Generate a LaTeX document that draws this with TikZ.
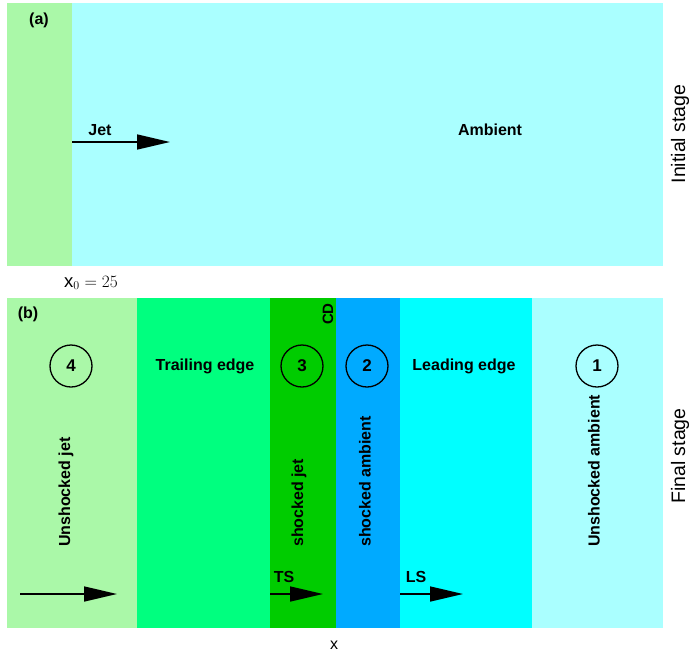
\documentclass[tikz,border=0pt]{standalone}
\usepackage{fontspec}
\setmainfont{Liberation Sans}
\usepackage{amsmath}
\usetikzlibrary{positioning,arrows.meta,calc}

\definecolor{jetgreen}{HTML}{AAF8A8}
\definecolor{ambcyan}{HTML}{AAFFFF}
\definecolor{trailgreen}{HTML}{00FF7F}
\definecolor{sjetgreen}{HTML}{00CC00}
\definecolor{sambblue}{HTML}{00AAFF}
\definecolor{leadcyan}{HTML}{00FFFF}

\begin{document}
\begin{tikzpicture}[
x=1pt,y=-1pt,
lbl/.style={font=\bfseries\fontsize{16}{18}\selectfont},
vlbl/.style={lbl,rotate=90,anchor=west,inner sep=0pt},
stage/.style={font=\fontsize{19.5}{22}\selectfont,rotate=90},
zone/.style={draw,circle,line width=1.3pt,minimum size=42pt,inner sep=0pt,font=\bfseries\fontsize{17}{19}\selectfont},
flow/.style={-{Triangle[length=33pt,width=15pt]},line width=1.6pt},
]
	\useasboundingbox (0,0) rectangle (689,657);
	% (a) initial stage
	\fill[jetgreen] (7,3) rectangle (72,266);
	\fill[ambcyan] (72,3) rectangle (663,266);
	\node[lbl] (pa) at (39,20) {(a)};
	\node[lbl] (jet) at (100,130) {Jet};
	\coordinate (jetstart) at (72,142);
	\coordinate (jettip) at (170,142);
	\draw[flow] (jetstart) -- (jettip);
	\node[lbl] (amb) at (490,130) {Ambient};
	\node[stage] (init) at (680,134) {Initial stage};
	\node[font=\fontsize{18.5}{20}\selectfont] (xnot) at (91,283) {$\mathrm{x}_0=25$};
	% (b) final stage
	\fill[jetgreen] (7,298) rectangle (137,628);
	\fill[trailgreen] (137,298) rectangle (270,628);
	\fill[sjetgreen] (270,298) rectangle (336,628);
	\fill[sambblue] (336,298) rectangle (400,628);
	\fill[leadcyan] (400,298) rectangle (532,628);
	\fill[ambcyan] (532,298) rectangle (663,628);
	\node[lbl] (pb) at (28,314) {(b)};
	\node[zone] (z4) at (71,366) {4};
	\node[lbl] (trail) at (205,366) {Trailing edge};
	\node[zone] (z3) at (302,366) {3};
	\node[zone] (z2) at (367,366) {2};
	\node[lbl] (lead) at (464,366) {Leading edge};
	\node[zone] (z1) at (597,366) {1};
	\node[lbl,rotate=90,font=\bfseries\fontsize{15}{17}\selectfont] (cd) at (328,314) {CD};
	\node[vlbl] (ujet) at (66,547) {Unshocked jet};
	\node[vlbl] (sjet) at (299,547) {shocked jet};
	\node[vlbl] (samb) at (365,547) {shocked ambient};
	\node[vlbl] (uamb) at (594,547) {Unshocked ambient};
	\node[stage] (final) at (680,456) {Final stage};
	\coordinate (ujstart) at (20,594);
	\coordinate (ujtip) at (117,594);
	\draw[flow] (ujstart) -- (ujtip);
	\node[lbl] (ts) at (284,577) {TS};
	\coordinate (tsstart) at (270,594);
	\coordinate (tstip) at (323,594);
	\draw[flow] (tsstart) -- (tstip);
	\node[lbl] (ls) at (416,577) {LS};
	\coordinate (lsstart) at (400,594);
	\coordinate (lstip) at (463,594);
	\draw[flow] (lsstart) -- (lstip);
	\node[font=\fontsize{16}{18}\selectfont] (xaxis) at (334,645) {x};
\end{tikzpicture}
\end{document}
